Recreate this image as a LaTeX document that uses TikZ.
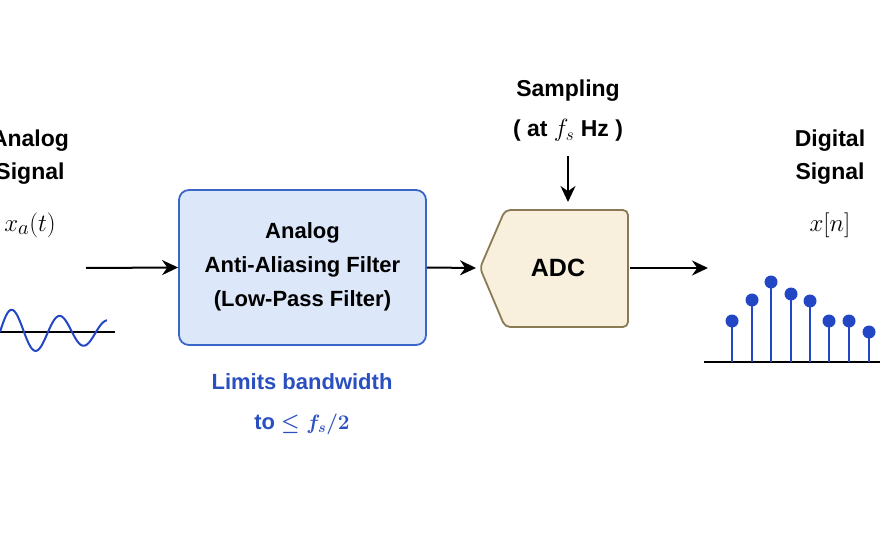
\documentclass[tikz,border=0pt]{standalone}
\usepackage{fontspec}
\setmainfont{Liberation Sans}
\usepackage{amsmath}
\usetikzlibrary{arrows.meta}
\begin{document}
\begin{tikzpicture}[x=1pt,y=-1pt,
  lbl/.style={font=\fontsize{23}{33}\selectfont\bfseries,align=center,text=black},
  mth/.style={font=\fontsize{29}{34}\selectfont},
  arr/.style={-{Stealth[length=16pt,width=15pt]},line width=2pt},
  stem/.style={draw=sblue,line width=2.6pt}]
\definecolor{fblue}{HTML}{DCE8FA}
\definecolor{bblue}{HTML}{3A66C8}
\definecolor{tblue}{HTML}{2A4FC0}
\definecolor{sblue}{HTML}{2246C4}
\definecolor{adcf}{HTML}{F8F0DC}
\definecolor{adcb}{HTML}{8A7A55}
\useasboundingbox (0,0) rectangle (880,540);
% left
\node[lbl] (as) at (30,157) {Analog\\Signal};
\node[mth] (xa) at (30,225) {$x_a(t)$};
\draw[line width=1.8pt] (0,332) -- (115,332);
\draw[sblue,line width=2pt,domain=0:107,samples=120,smooth] plot (\x,{332-24*exp(-\x/150)*sin(\x*7.5)});
\coordinate (s1) at (86,268);
% filter
\node[draw=bblue,fill=fblue,line width=1.8pt,rounded corners=10pt,minimum width=247pt,minimum height=155pt] (flt) at (302.5,267.5) {};
\node[lbl,font=\fontsize{22}{34}\selectfont\bfseries] (ft) at (302.5,267) {Analog\\Anti-Aliasing Filter\\(Low-Pass Filter)};
\node[lbl,text=tblue,font=\fontsize{22}{40}\selectfont\bfseries] (lim) at (302,404) {Limits bandwidth\\to $\boldsymbol{\leq f_s/2}$};
\draw[arr] (s1) -- (flt.west);
% ADC
\draw[draw=adcb,fill=adcf,line width=1.8pt,rounded corners=5pt] (480,268) -- (505,210) -- (628,210) -- (628,327) -- (505,327) -- cycle;
\node[lbl,font=\fontsize{25}{30}\selectfont\bfseries] (adc) at (558,268) {ADC};
\coordinate (adcl) at (476,268);
\coordinate (adcr) at (630,268);
\coordinate (adct) at (568,202);
\draw[arr] (flt.east) -- (adcl);
\node[lbl,font=\fontsize{23}{40}\selectfont\bfseries] (smp) at (568,111) {Sampling\\( at $f_s$ Hz )};
\coordinate (st) at (568,156);
\draw[arr] (st) -- (adct);
% right
\node[lbl] (ds) at (830,157) {Digital\\Signal};
\node[mth] (xn) at (830,225) {$x[n]$};
\coordinate (ae) at (708,268);
\draw[arr] (adcr) -- (ae);
\draw[line width=1.8pt] (704,362) -- (880,362);
\foreach \xx/\yy in {732/321,752/300,771/282,791/294,810/301,829/321,849/321,869/332}{
  \draw[stem] (\xx,362) -- (\xx,\yy);
  \fill[sblue] (\xx,\yy) circle (6.5pt);
}
\end{tikzpicture}
\end{document}
